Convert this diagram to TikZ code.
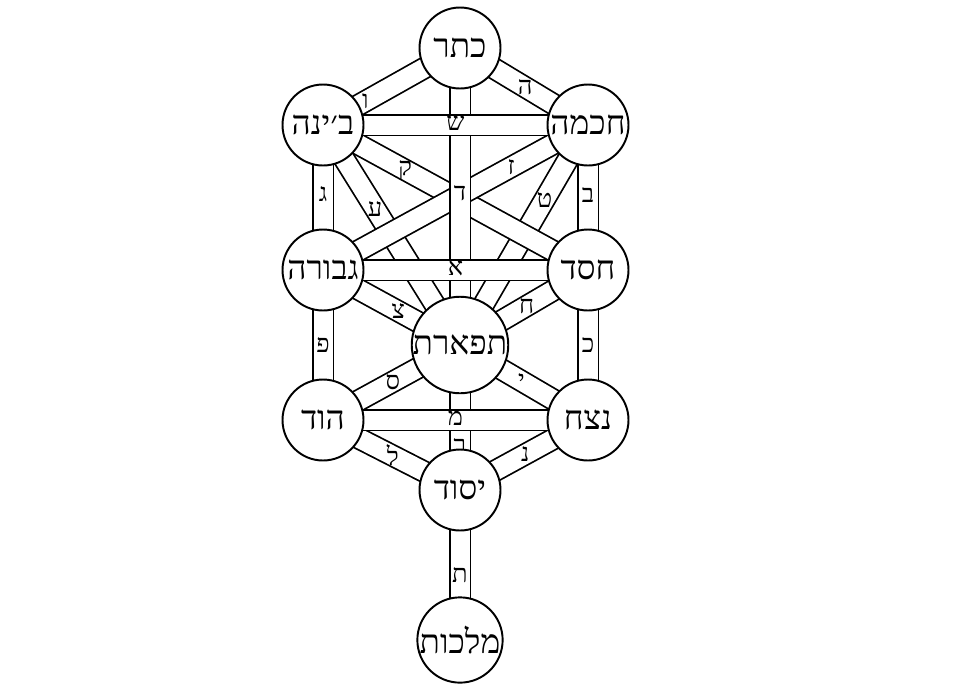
\documentclass[tikz,border=0pt]{standalone}
\usepackage{fontspec}
\newfontfamily\hebfont[Script=Hebrew]{Liberation Serif}
\TeXXeTstate=1
\usetikzlibrary{positioning}

\tikzset{
  sefira/.style={circle, draw, line width=1.1pt, fill=white, minimum size=1.62cm,
                 inner sep=0pt, font=\hebfont\fontsize{19}{19}\selectfont},
  netiv/.style={draw=black, line width=1pt, double=white, double distance=0.38cm},
  ot/.style={font=\hebfont\fontsize{14.5}{14.5}\selectfont, inner sep=0pt}
}
\newcommand{\heb}[1]{\beginR #1\endR}

\begin{document}
\begin{tikzpicture}[x=0.02cm, y=-0.02cm]
  \useasboundingbox (0,0) rectangle (960,694);

  % positions of the sefirot
  \coordinate (keter)    at (460,48);
  \coordinate (bina)     at (323,125);
  \coordinate (chochma)  at (588,125);
  \coordinate (gevura)   at (323,270);
  \coordinate (chesed)   at (588,270);
  \coordinate (tiferet)  at (460,345);
  \coordinate (hod)      at (323,420);
  \coordinate (netzach)  at (588,420);
  \coordinate (yesod)    at (460,490);
  \coordinate (malchut)  at (460,640);

  % paths, back to front
  \foreach \a/\b/\l/\t in {
      bina/tiferet/ע/0.38, chochma/tiferet/ט/0.34,
      gevura/tiferet/צ/0.55, chesed/tiferet/ח/0.48,
      bina/chesed/ק/0.31, chochma/gevura/ז/0.29,
      keter/bina/ו/0.69, keter/chochma/ה/0.51,
      bina/gevura/ג/0.48, chochma/chesed/ב/0.48,
      gevura/hod/פ/0.5, chesed/netzach/כ/0.5,
      hod/tiferet/ס/0.51, netzach/tiferet/י/0.52,
      hod/yesod/ל/0.51, netzach/yesod/נ/0.49,
      yesod/malchut/ת/0.57, tiferet/yesod/ר/0.7}
    \draw[netiv] (\a) -- (\b) node[ot, pos=\t] {\heb{\l}};
  \draw[netiv] (keter) -- (tiferet) node[ot, pos=0.49] {\heb{ד}};
  \foreach \a/\b/\l in {bina/chochma/ש, gevura/chesed/א, hod/netzach/מ}
    \draw[netiv] (\a) -- (\b) node[ot, midway, yshift=1pt] {\heb{\l}};

  % sefirot
  \node[sefira] (nketer)   at (keter)   {\heb{כתר}};
  \node[sefira] (nbina)    at (bina)    {\heb{ב׳ינה}};
  \node[sefira] (nchochma) at (chochma) {\heb{חכמה}};
  \node[sefira] (ngevura)  at (gevura)  {\heb{גבורה}};
  \node[sefira] (nchesed)  at (chesed)  {\heb{חסד}};
  \node[sefira] (ntiferet) at (tiferet) {\heb{תפארת}};
  \node[sefira] (nhod)     at (hod)     {\heb{הוד}};
  \node[sefira] (nnetzach) at (netzach) {\heb{נצח}};
  \node[sefira] (nyesod)   at (yesod)   {\heb{יסוד}};
  \node[sefira] (nmalchut) at (malchut) {\heb{מלכות}};
\end{tikzpicture}
\end{document}
